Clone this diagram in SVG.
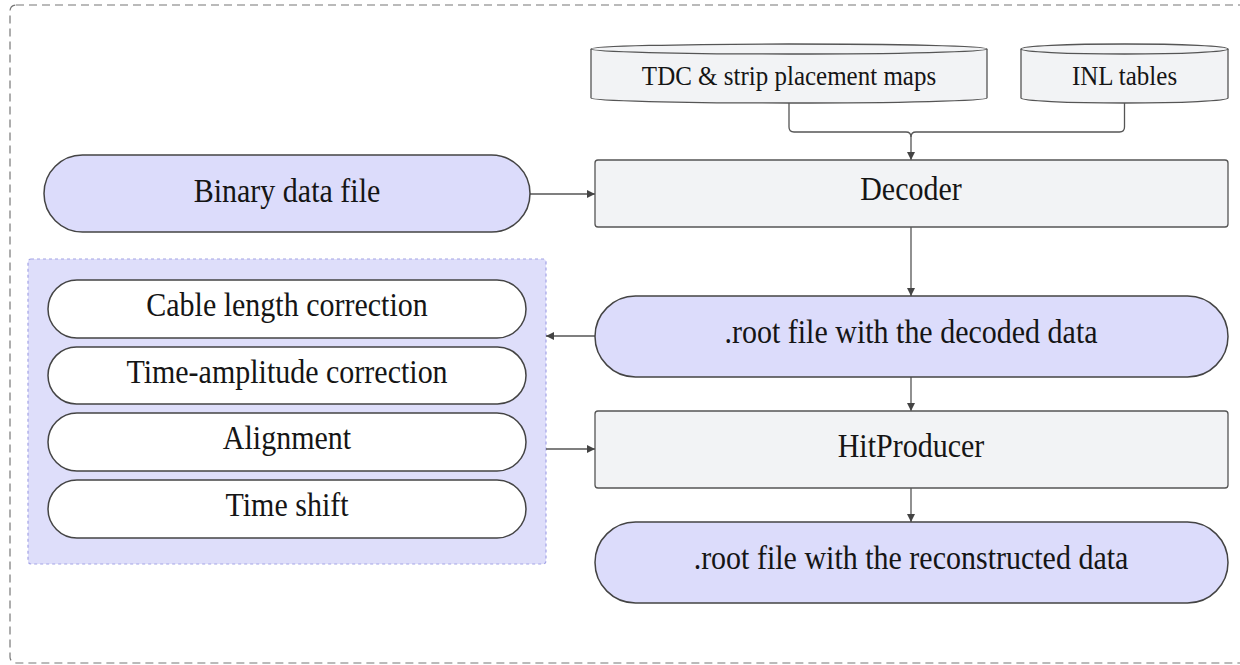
<svg xmlns="http://www.w3.org/2000/svg" width="1240" height="665" viewBox="0 0 1240 665">
  <style>
    .lbl { font-family: 'Liberation Serif', Tinos, 'DejaVu Serif', serif; font-size: 30px; fill: #151515; text-anchor: middle; }
    .small { font-size: 25px; }
    .file { fill: #dcdcfb; stroke: #444; stroke-width: 1.5; }
    .step { fill: #ffffff; stroke: #444; stroke-width: 1.5; }
    .proc { fill: #f2f3f5; stroke: #555; stroke-width: 1.3; }
    .store { fill: #f2f3f5; stroke: #555; stroke-width: 1.3; }
    .edge { fill: none; stroke: #555; stroke-width: 1.3; }
  </style>
  <defs>
    <marker id="arrow" viewBox="0 0 10 10" refX="10" refY="5" markerWidth="8" markerHeight="8" markerUnits="userSpaceOnUse" orient="auto">
      <path d="M0,0 L10,5 L0,10 Z" fill="#444"/>
    </marker>
  </defs>

  <!-- outer frame -->
  <rect x="10" y="5" width="1250" height="658" rx="6" fill="#ffffff" stroke="#777" stroke-width="1.2" stroke-dasharray="8,5"/>

  <!-- calibration group -->
  <g id="calibration">
    <rect x="28" y="259" width="518" height="305" rx="3" fill="#dedefa" stroke="#a3a3e6" stroke-width="1.2" stroke-dasharray="3,3"/>
    <g id="cable">
      <rect class="step" x="48" y="280" width="478" height="58" rx="29"/>
      <text class="lbl" transform="translate(287,316) scale(1,1.12)">Cable length correction</text>
    </g>
    <g id="timeamp">
      <rect class="step" x="48" y="347" width="478" height="57" rx="28.5"/>
      <text class="lbl" transform="translate(287,383) scale(1,1.12)">Time-amplitude correction</text>
    </g>
    <g id="alignment">
      <rect class="step" x="48" y="413" width="478" height="58" rx="29"/>
      <text class="lbl" transform="translate(287,449) scale(1,1.12)">Alignment</text>
    </g>
    <g id="timeshift">
      <rect class="step" x="48" y="480" width="478" height="58" rx="29"/>
      <text class="lbl" transform="translate(287,516) scale(1,1.12)">Time shift</text>
    </g>
  </g>

  <!-- connectors -->
  <g id="connectors">
    <path class="edge" d="M789,103 L789,127 Q789,132 794,132 L906,132 Q911,132 911,137"/>
    <path class="edge" d="M1124.5,103 L1124.5,127 Q1124.5,132 1119.5,132 L916,132 Q911,132 911,137 L911,160" marker-end="url(#arrow)"/>
    <path class="edge" d="M530,194 L595,194" marker-end="url(#arrow)"/>
    <path class="edge" d="M911,227 L911,296" marker-end="url(#arrow)"/>
    <path class="edge" d="M595,336 L546,336" marker-end="url(#arrow)"/>
    <path class="edge" d="M911,377 L911,411" marker-end="url(#arrow)"/>
    <path class="edge" d="M546,449 L595,449" marker-end="url(#arrow)"/>
    <path class="edge" d="M911,488 L911,522" marker-end="url(#arrow)"/>
  </g>

  <g id="maps">
    <path class="store" d="M591,49 A198,5 0 0,1 987,49 L987,98 A198,5 0 0,1 591,98 Z"/>
    <path class="edge" d="M591,49 A198,5 0 0,0 987,49"/>
    <text class="lbl small" transform="translate(789,85) scale(1,1.12)">TDC &amp; strip placement maps</text>
  </g>

  <g id="inl">
    <path class="store" d="M1021,49 A103.5,5 0 0,1 1228,49 L1228,98 A103.5,5 0 0,1 1021,98 Z"/>
    <path class="edge" d="M1021,49 A103.5,5 0 0,0 1228,49"/>
    <text class="lbl small" transform="translate(1124.5,85) scale(1,1.12)">INL tables</text>
  </g>

  <g id="binary">
    <rect class="file" x="44" y="155" width="486" height="77" rx="38.5"/>
    <text class="lbl" transform="translate(287,202) scale(1,1.12)">Binary data file</text>
  </g>

  <g id="decoder">
    <rect class="proc" x="595" y="160" width="633" height="67" rx="3"/>
    <text class="lbl" transform="translate(911,200) scale(1,1.12)">Decoder</text>
  </g>

  <g id="decoded">
    <rect class="file" x="595" y="296" width="633" height="81" rx="40.5"/>
    <text class="lbl" transform="translate(911,343) scale(1,1.12)">.root file with the decoded data</text>
  </g>

  <g id="hitproducer">
    <rect class="proc" x="595" y="411" width="633" height="77" rx="3"/>
    <text class="lbl" transform="translate(911,457) scale(1,1.12)">HitProducer</text>
  </g>

  <g id="reconstructed">
    <rect class="file" x="595" y="522" width="633" height="81" rx="40.5"/>
    <text class="lbl" transform="translate(911,569) scale(1,1.12)">.root file with the reconstructed data</text>
  </g>
</svg>
